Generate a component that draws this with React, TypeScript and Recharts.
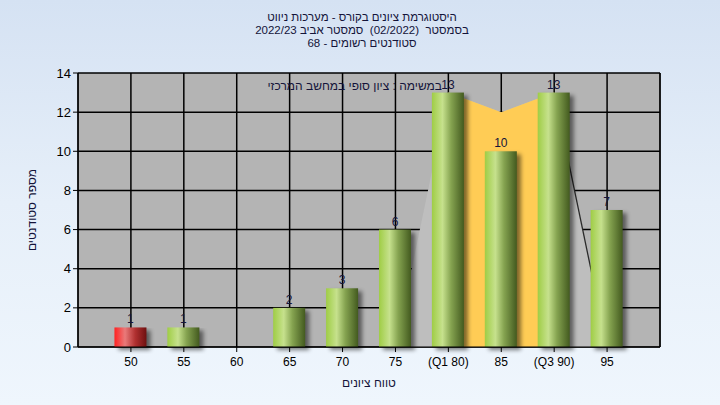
import React from "react";
import {
  ComposedChart,
  Bar,
  Area,
  XAxis,
  YAxis,
  CartesianGrid,
  LabelList,
  Label
} from "recharts";

// grade buckets and student counts
const scores = [50, 55, 60, 65, 70, 75, 80, 85, 90, 95];
const counts = [1, 1, 0, 2, 3, 6, 13, 10, 13, 7];
const tickNames = ["50", "55", "60", "65", "70", "75", "(Q1 80)", "85", "(Q3 90)", "95"];
// light grey envelope behind the bars, the quartile band and its right edge line
const envelope = [null, null, null, null, null, 0, 13, 12, 13, 0];
const quartileBand = [null, null, null, null, null, null, 13, 12, 13, null];
const tailLine = [null, null, null, null, null, null, null, null, 13, 0];
const yTicks = [0, 2, 4, 6, 8, 10, 12, 14];
const failBelow = 55;

const data = scores.map((x, i) => ({
  x,
  count: counts[i],
  envelope: envelope[i],
  band: quartileBand[i],
  tail: tailLine[i]
}));

const FONT = "'Liberation Sans', Arial, sans-serif";
const TEXT = "#14143a";

const tickLabel = (v: number) => tickNames[scores.indexOf(v)] ?? String(v);

function ShadedBar(props: any) {
  const { x, y, width, height, payload } = props;
  if (!height || height <= 0) return <g />;
  const red = payload && payload.x < failBelow;
  return (
    <g>
      <rect
        x={x + 4}
        y={y + 3}
        width={width}
        height={height}
        fill="#000"
        opacity={0.5}
        filter="url(#barShadow)"
      />
      <rect x={x} y={y} width={width} height={height} fill={red ? "url(#gRed)" : "url(#gGreen)"} />
    </g>
  );
}

export default function App() {
  return (
    <div
      style={{
        position: "absolute",
        left: 0,
        top: 0,
        width: 720,
        height: 405,
        background: "linear-gradient(180deg, #d5e2f3 0%, #e6eff9 50%, #eff6fd 100%)",
        fontFamily: FONT,
        overflow: "hidden"
      }}
    >
      <div
        style={{
          position: "absolute",
          left: 0,
          top: 11,
          width: 724,
          textAlign: "center",
          fontSize: 11.5,
          lineHeight: "13px",
          color: TEXT,
          direction: "rtl"
        }}
      >
        <div>היסטוגרמת ציונים בקורס - מערכות ניווט</div>
        <div>בסמסטר&nbsp;&nbsp;(02/2022)&nbsp;&nbsp;סמסטר אביב 2022/23</div>
        <div>סטודנטים רשומים - 68</div>
      </div>

      <ComposedChart
        width={720}
        height={405}
        data={data}
        margin={{ top: 73, right: 0, bottom: 28, left: 0 }}
      >
        <defs>
          <linearGradient id="gGreen" x1="0" y1="0" x2="1" y2="0">
            <stop offset="0%" stopColor="#9fcd45" />
            <stop offset="33%" stopColor="#c6e18d" />
            <stop offset="60%" stopColor="#85a350" />
            <stop offset="100%" stopColor="#435a1f" />
          </linearGradient>
          <linearGradient id="gRed" x1="0" y1="0" x2="1" y2="0">
            <stop offset="0%" stopColor="#ff2222" />
            <stop offset="33%" stopColor="#e97a7a" />
            <stop offset="65%" stopColor="#b03030" />
            <stop offset="100%" stopColor="#6e1010" />
          </linearGradient>
          <filter id="barShadow" x="-30%" y="-10%" width="160%" height="130%">
            <feGaussianBlur stdDeviation="2" />
          </filter>
        </defs>
        <CartesianGrid fill="#b4b4b4" stroke="#000" strokeWidth={1.5} />
        <XAxis
          type="number"
          dataKey="x"
          domain={[45, 100]}
          ticks={scores}
          tickFormatter={tickLabel}
          tickSize={5}
          tickMargin={5}
          height={30}
          stroke="#000"
          tick={{ fill: "#000", fontSize: 12, fontFamily: FONT }}
        >
          <Label
            value="טווח ציונים"
            position="insideBottom"
            offset={-10}
            style={{ fill: TEXT, fontSize: 12, fontFamily: FONT }}
          />
        </XAxis>
        <YAxis
          domain={[0, 14]}
          ticks={yTicks}
          width={78}
          tickSize={5}
          tickMargin={2}
          stroke="#000"
          tick={{ fill: "#000", fontSize: 13, fontFamily: FONT }}
        >
          <Label
            value="מספר סטודנטים"
            angle={-90}
            position="insideLeft"
            offset={32}
            style={{ fill: TEXT, fontSize: 12, fontFamily: FONT, textAnchor: "middle" }}
          />
        </YAxis>
        <YAxis
          yAxisId="r"
          orientation="right"
          domain={[0, 14]}
          ticks={yTicks}
          width={60}
          tickSize={5}
          tickMargin={3}
          stroke="#000"
          tick={{ fill: "#000", fontSize: 13, fontFamily: FONT }}
        />
        <Area
          dataKey="envelope"
          type="linear"
          fill="#bebebe"
          fillOpacity={1}
          stroke="none"
          isAnimationActive={false}
        />
        <Area
          dataKey="tail"
          type="linear"
          fill="none"
          fillOpacity={0}
          stroke="#2a2a2a"
          strokeWidth={1.3}
          dot={false}
          activeDot={false}
          isAnimationActive={false}
        />
        <Area
          dataKey="band"
          type="linear"
          fill="#ffcc55"
          fillOpacity={1}
          stroke="none"
          isAnimationActive={false}
        />
        <Bar dataKey="count" barSize={32} shape={ShadedBar} isAnimationActive={false}>
          <LabelList
            dataKey="count"
            position="top"
            offset={4}
            formatter={(v: any) => (v ? v : "")}
            style={{ fill: TEXT, fontSize: 12, fontFamily: FONT }}
          />
        </Bar>
      </ComposedChart>

      <div
        style={{
          position: "absolute",
          right: 720 - 442,
          top: 79,
          fontSize: 12,
          color: TEXT,
          direction: "rtl",
          whiteSpace: "nowrap"
        }}
      >
        במשימה : ציון סופי במחשב המרכזי
      </div>
    </div>
  );
}
